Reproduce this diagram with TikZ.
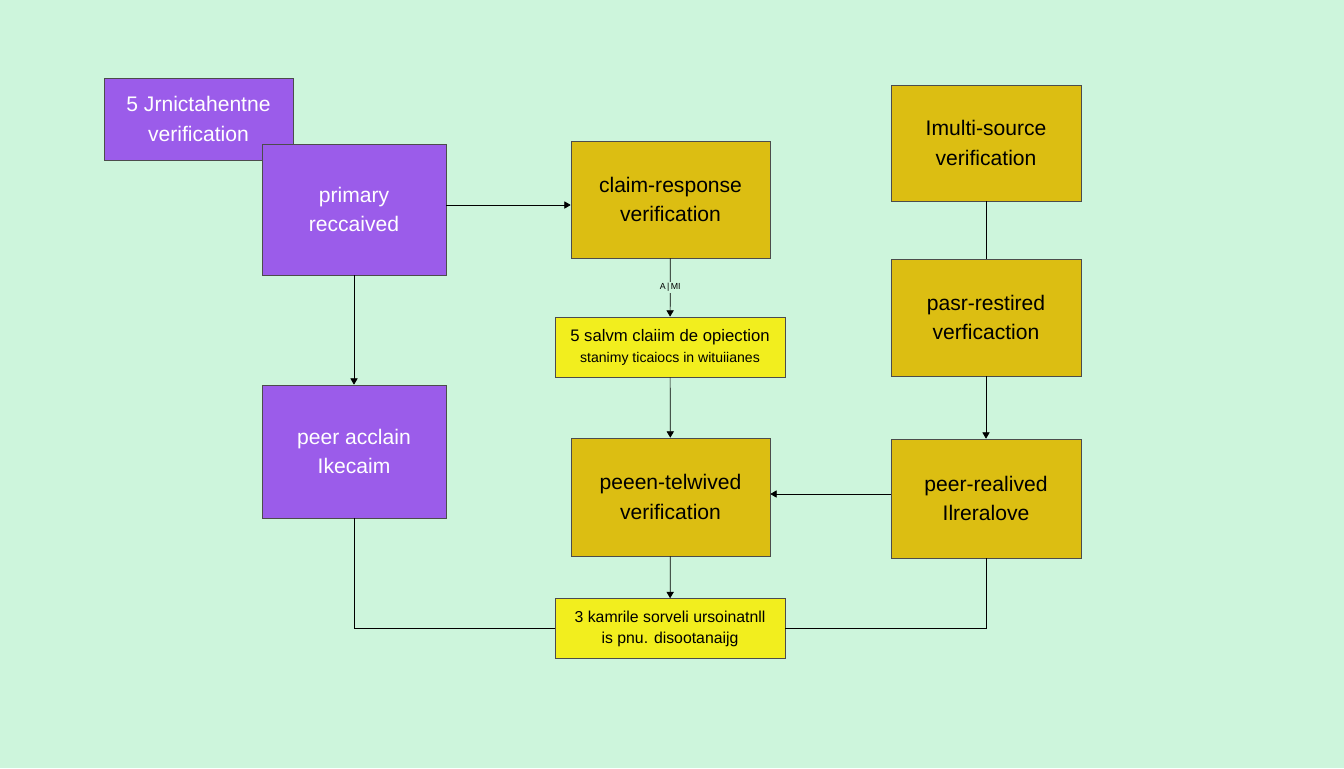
\documentclass[tikz,border=0pt]{standalone}
\usepackage{fontspec}
\setmainfont{Liberation Sans}
\usetikzlibrary{positioning,arrows.meta}
\tikzset{>=Triangle}
\definecolor{bgmint}{HTML}{CDF5DC}
\definecolor{violet}{HTML}{9B5CEA}
\definecolor{mustard}{HTML}{DCBE12}
\definecolor{lemon}{HTML}{F2EE1E}
\tikzset{
  vbox/.style={draw=black!70,fill=violet,text=white,align=center,font=\fontsize{12}{17}\selectfont},
  mbox/.style={draw=black!70,fill=mustard,align=center,font=\fontsize{12}{17}\selectfont},
  ybox/.style={draw=black!70,fill=lemon,align=center,minimum width=230*0.02cm,minimum height=60*0.02cm}
}

\begin{document}
\begin{tikzpicture}[x=0.02cm,y=-0.02cm]
\fill[bgmint] (0,0) rectangle (1344,768);
\useasboundingbox (0,0) rectangle (1344,768);

\node[vbox,minimum width=189*0.02cm,minimum height=82*0.02cm] (jrn) at (198.5,119) {5 Jrnictahentne\\verification};
\node[vbox,minimum width=184*0.02cm,minimum height=131*0.02cm] (prim) at (354,209.5) {primary\\reccaived};
\node[vbox,minimum width=184*0.02cm,minimum height=133*0.02cm] (acclain) at (354,451.5) {peer acclain\\Ikecaim};

\node[mbox,minimum width=199*0.02cm,minimum height=117*0.02cm] (claim) at (670.5,199.5) {claim-response\\verification};
\node[ybox] (salvm) at (670,347) {\fontsize{9.5}{14}\selectfont 5 salvm claiim de opiection\\\fontsize{8}{12}\selectfont stanimy ticaiocs in wituiianes};
\node[mbox,minimum width=199*0.02cm,minimum height=118*0.02cm] (telw) at (670.5,497) {peeen-telwived\\verification};
\node[ybox] (kamr) at (670,628.5) {\fontsize{9}{14}\selectfont 3 kamrile sorveli ursoinatnll\\\fontsize{9}{14}\selectfont is pnu. disootanaijg};

\node[mbox,minimum width=190*0.02cm,minimum height=116*0.02cm] (multi) at (986,143) {Imulti-source\\verification};
\node[mbox,minimum width=190*0.02cm,minimum height=117*0.02cm] (pasr) at (986,317.5) {pasr-restired\\verficaction};
\node[mbox,minimum width=190*0.02cm,minimum height=119*0.02cm] (real) at (986,498.5) {peer-realived\\Ilreralove};

\draw[->] (prim.east |- 0,205) -- (claim.west |- 0,205);
\draw[->] (prim) -- (acclain);
\draw[->] (claim) -- node[font=\tiny,fill=bgmint,inner sep=1pt] {A\,|\,MI} (salvm);
\draw[->] (salvm) -- (telw);
\draw[->] (real.west |- 0,494) -- (telw.east |- 0,494);
\draw (multi) -- (pasr);
\draw[->] (pasr) -- (real);
\draw[->] (telw) -- (kamr);
\draw (acclain) |- (kamr.west);
\draw (real) |- (kamr.east);
\end{tikzpicture}
\end{document}
